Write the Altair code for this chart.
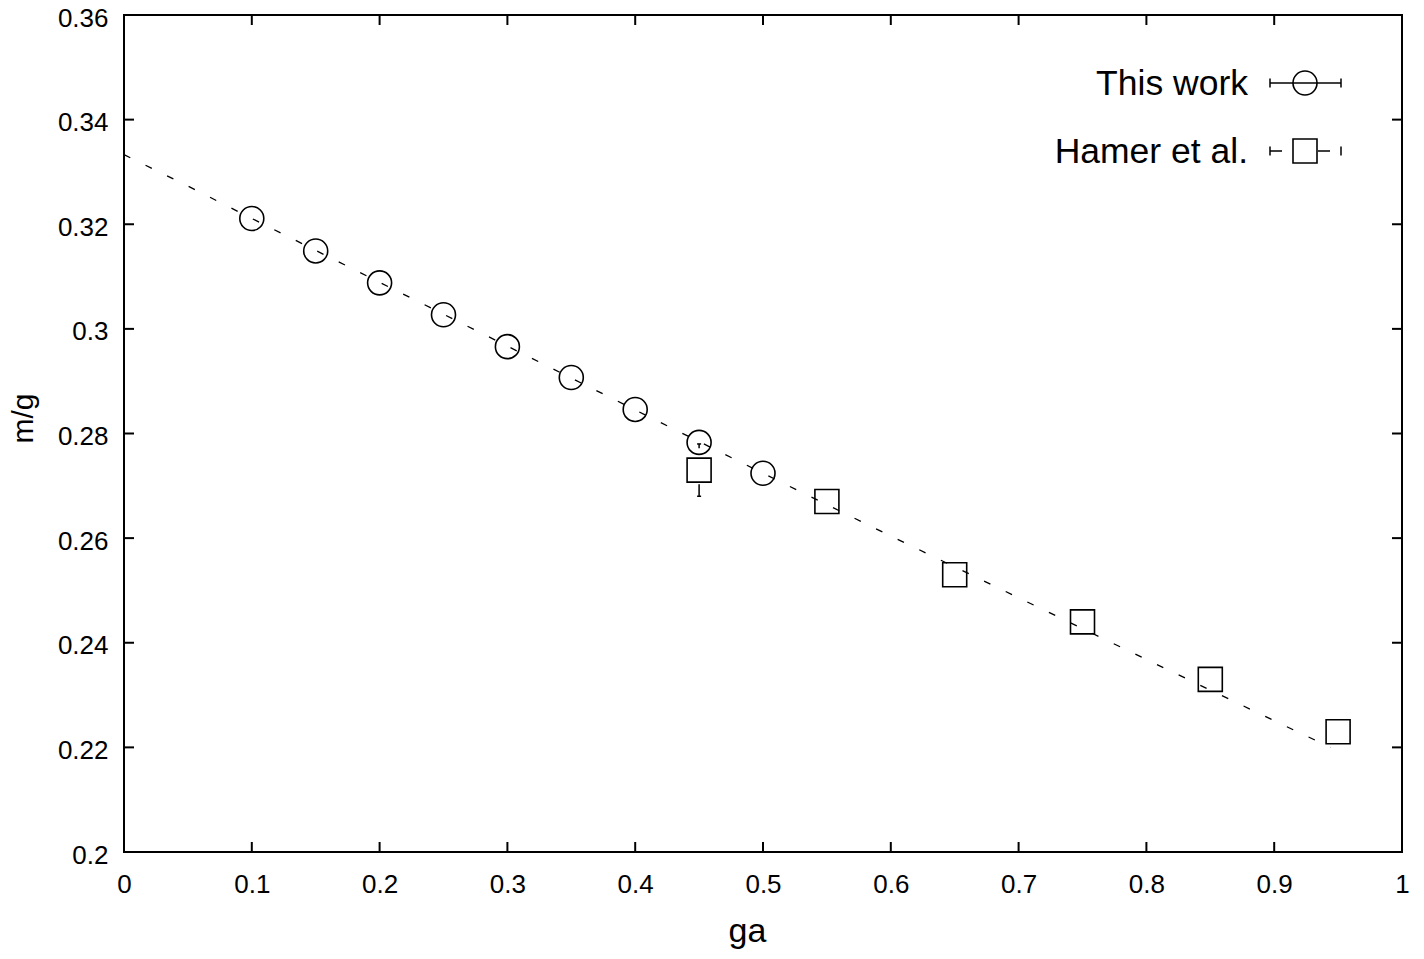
import altair as alt
import pandas as pd

# ---------------- data ----------------
series_names = ["This work", "Hamer et al."]

this_x = [0.10, 0.15, 0.20, 0.25, 0.30, 0.35, 0.40, 0.45, 0.50]
this_y = [0.3211, 0.3149, 0.3088, 0.3027, 0.2966, 0.2907, 0.2846, 0.2783, 0.2724]

hamer_x = [0.45, 0.55, 0.65, 0.75, 0.85, 0.95]
hamer_y = [0.273, 0.267, 0.253, 0.244, 0.233, 0.223]
hamer_err = [0.005, 0.0, 0.0, 0.0, 0.0, 0.0]

curve_x = [0.0, 0.05, 0.1, 0.2, 0.3, 0.4, 0.5, 0.6, 0.7, 0.8, 0.9, 0.944]
curve_y = [0.3333, 0.3273, 0.3211, 0.3089, 0.2967, 0.2845, 0.2724, 0.2604, 0.2486, 0.2368, 0.2251, 0.2200]

x_ticks = [0.0, 0.1, 0.2, 0.3, 0.4, 0.5, 0.6, 0.7, 0.8, 0.9, 1.0]
y_ticks = [0.20, 0.22, 0.24, 0.26, 0.28, 0.30, 0.32, 0.34, 0.36]

# ---------------- layout / style ----------------
W, H = 1278, 837
TOP = 15          # page y of the plot's top edge
FONT = "Liberation Sans"
TICK = 10

xs = alt.Scale(domain=[0, 1], nice=False, zero=False)
ys = alt.Scale(domain=[0.2, 0.36], nice=False, zero=False)

xaxis = alt.Axis(values=x_ticks, format="~g", ticks=False, tickSize=0, domain=False, grid=False,
                 labelFont=FONT, labelFontSize=26, labelColor="black", labelPadding=19, labelFlush=False,
                 titleFont=FONT, titleFontSize=34, titleFontWeight="normal", titleColor="black",
                 titleX=623, titleY=89, titleBaseline="alphabetic", titleAlign="center")
yaxis = alt.Axis(values=y_ticks, format="~g", ticks=False, tickSize=0, domain=False, grid=False,
                 labelFont=FONT, labelFontSize=26, labelColor="black", labelPadding=16, labelFlush=False,
                 labelOffset=3,
                 titleFont=FONT, titleFontSize=30, titleFontWeight="normal", titleColor="black",
                 titleX=-92, titleY=418 - TOP, titleBaseline="alphabetic", titleAlign="center",
                 titleAngle=270)


def X(field):
    return alt.X(f"{field}:Q", scale=xs, axis=xaxis, title="ga")


def Y(field):
    return alt.Y(f"{field}:Q", scale=ys, axis=yaxis, title="m/g")


this_df = pd.DataFrame({"ga": this_x, "mg": this_y})
hamer_df = pd.DataFrame({"ga": hamer_x, "mg": hamer_y, "err": hamer_err})
hamer_df["lo"] = hamer_df["mg"] - hamer_df["err"]
hamer_df["hi"] = hamer_df["mg"] + hamer_df["err"]
err_df = hamer_df[hamer_df["err"] > 0]
curve_df = pd.DataFrame({"ga": curve_x, "mg": curve_y})
xt_df = pd.DataFrame({"v": x_ticks})
yt_df = pd.DataFrame({"v": y_ticks})

# fitted curve (dashed)
curve = alt.Chart(curve_df).mark_line(color="black", strokeWidth=1.3, strokeDash=[7, 17]).encode(
    x=X("ga"), y=Y("mg"))

# Hamer error bar (dashed, drawn from bottom to top) and caps
err_rule = alt.Chart(err_df).mark_rule(color="black", strokeWidth=1.5, strokeDash=[12, 36]).encode(
    x=X("ga"), y=Y("lo"), y2="hi:Q")
cap_path = "M-0.5,0H0.5"
err_lo = alt.Chart(err_df).mark_point(shape=cap_path, size=64, color="black", strokeWidth=1.5,
                                      filled=False, opacity=1).encode(x=X("ga"), y=Y("lo"))
err_hi = alt.Chart(err_df).mark_point(shape=cap_path, size=64, color="black", strokeWidth=1.5,
                                      filled=False, opacity=1).encode(x=X("ga"), y=Y("hi"))

this_pts = alt.Chart(this_df).mark_point(shape="circle", size=576, filled=False, color="black",
                                         strokeWidth=1.6, opacity=1).encode(x=X("ga"), y=Y("mg"))
hamer_pts = alt.Chart(hamer_df).mark_point(shape="square", size=576, filled=False, color="black",
                                           strokeWidth=1.6, opacity=1).encode(x=X("ga"), y=Y("mg"))

# inward ticks on all four sides
tb = alt.Chart(xt_df).mark_rule(color="black", strokeWidth=2).encode(
    x=X("v"), y=alt.value(H), y2=alt.value(H - TICK))
tt = alt.Chart(xt_df).mark_rule(color="black", strokeWidth=2).encode(
    x=X("v"), y=alt.value(0), y2=alt.value(TICK))
tl = alt.Chart(yt_df).mark_rule(color="black", strokeWidth=2).encode(
    y=Y("v"), x=alt.value(0), x2=alt.value(TICK))
tr = alt.Chart(yt_df).mark_rule(color="black", strokeWidth=2).encode(
    y=Y("v"), x=alt.value(W), x2=alt.value(W - TICK))

# legend (top right, labels left of symbols); pixel positions within the plot
leg_layers = []
rows = [(series_names[0], 83 - TOP, 95 - TOP, "circle", None),
        (series_names[1], 151 - TOP, 163 - TOP, "square", [12, 36])]
for name, ys_pix, base_pix, shape, dash in rows:
    one = pd.DataFrame({"label": [name]})
    leg_layers.append(alt.Chart(one).mark_text(align="right", baseline="alphabetic", font=FONT,
                                               fontSize=35.5, color="black").encode(
        text="label:N", x=alt.value(1124), y=alt.value(base_pix)))
    rule_kw = dict(color="black", strokeWidth=1.5)
    if dash:
        rule_kw["strokeDash"] = dash
    leg_layers.append(alt.Chart(one).mark_rule(**rule_kw).encode(
        x=alt.value(1146), x2=alt.value(1217), y=alt.value(ys_pix)))
    for cx in (1146, 1217):
        leg_layers.append(alt.Chart(one).mark_rule(color="black", strokeWidth=1.5).encode(
            x=alt.value(cx), y=alt.value(ys_pix - 4.5), y2=alt.value(ys_pix + 4.5)))
    leg_layers.append(alt.Chart(one).mark_point(shape=shape, size=576, filled=False, color="black",
                                                strokeWidth=1.6, opacity=1).encode(
        x=alt.value(1181), y=alt.value(ys_pix)))

chart = alt.layer(curve, err_rule, err_lo, err_hi, this_pts, hamer_pts, tb, tt, tl, tr,
                  *leg_layers).properties(
    width=W, height=H,
    autosize=alt.AutoSizeParams(type="none"),
    padding={"left": 116, "top": TOP - 8, "right": 10, "bottom": 98},
    background="white",
).configure_view(stroke="black", strokeWidth=2)

chart.save("out.html", embed_options={"renderer": "svg", "actions": False})
